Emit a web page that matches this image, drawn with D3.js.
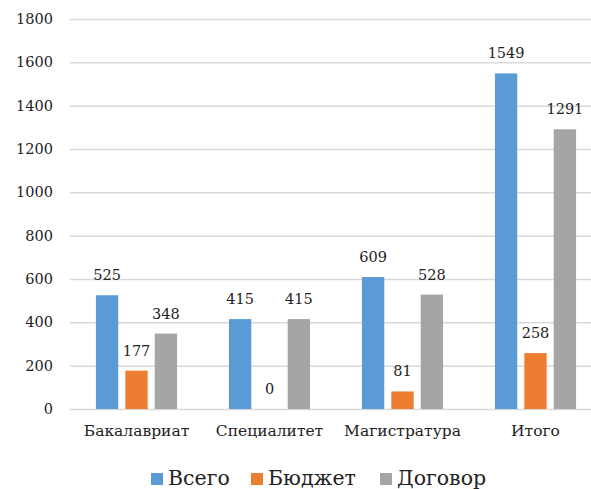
<!DOCTYPE html>
<html><head><meta charset="utf-8">
<script src="https://cdn.jsdelivr.net/npm/d3@7"></script>
<style>body{margin:0;background:#fff}svg{display:block}text{font-family:"DejaVu Serif","Liberation Serif",serif;fill:#222}</style>
</head><body>
<script>
const categories = ["Бакалавриат","Специалитет","Магистратура","Итого"];
const seriesNames = ["Всего","Бюджет","Договор"];
const vsego = [525,415,609,1549];
const byudzhet = [177,0,81,258];
const dogovor = [348,415,528,1291];
const yTicks = [0,200,400,600,800,1000,1200,1400,1600,1800];
const colors = ["#5b9bd5","#ed7d31","#a5a5a5"];
const seriesValues = [vsego, byudzhet, dogovor];

const W=591,H=489;
const svg=d3.select("body").append("svg").attr("width",W).attr("height",H);
const x=d3.scaleBand().domain(categories).range([70,602]).paddingInner(0.39).paddingOuter(0.195);
const xs=d3.scaleBand().domain(seriesNames).range([0,x.bandwidth()]).paddingInner(0.24);
const y=d3.scaleLinear().domain([0,1800]).range([409,19]);

const gy=svg.append("g").attr("transform","translate(70,0)")
  .call(d3.axisLeft(y).tickValues(yTicks).tickFormat(d3.format("d")).tickSize(-540).tickPadding(17));
gy.select(".domain").remove();
gy.selectAll("line").attr("stroke","#d9d9d9").attr("stroke-width",1.5);
gy.selectAll("text").attr("font-size",14.5).attr("fill","#222").style("font-family","DejaVu Serif");

const gx=svg.append("g").attr("transform","translate(0,409)")
  .call(d3.axisBottom(x).tickSize(0).tickPadding(16));
gx.select(".domain").remove();
gx.selectAll("text").attr("font-size",15.5).attr("fill","#222").style("font-family","DejaVu Serif");

seriesNames.forEach((s,i)=>{
  const g=svg.append("g");
  g.selectAll("rect").data(categories).join("rect")
    .attr("x",c=>x(c)+xs(s)).attr("width",xs.bandwidth())
    .attr("y",(c,j)=>y(seriesValues[i][j])).attr("height",(c,j)=>409-y(seriesValues[i][j]))
    .attr("fill",colors[i]);
  g.selectAll("text").data(categories).join("text")
    .attr("x",c=>x(c)+xs(s)+xs.bandwidth()/2).attr("y",(c,j)=>y(seriesValues[i][j])-15)
    .attr("text-anchor","middle").attr("font-size",14.5).text((c,j)=>seriesValues[i][j]);
});

const legX=[151,251,380];
const leg=svg.append("g");
seriesNames.forEach((s,i)=>{
  leg.append("rect").attr("x",legX[i]).attr("y",473).attr("width",12).attr("height",12).attr("fill",colors[i]);
  leg.append("text").attr("x",legX[i]+17).attr("y",485).attr("font-size",20.5).text(s);
});
</script>
</body></html>
